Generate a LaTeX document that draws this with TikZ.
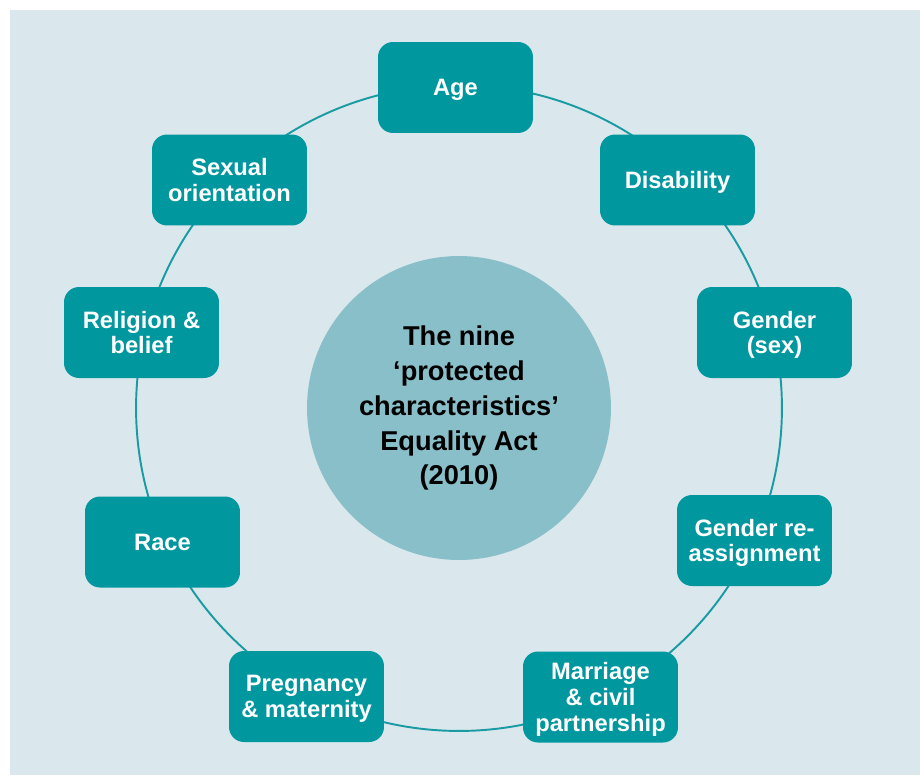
\documentclass[tikz,border=0pt]{standalone}
\usepackage{fontspec}
\setmainfont{Liberation Sans}
\definecolor{paper}{HTML}{DAE8ED}
\definecolor{tealbox}{HTML}{00979F}
\definecolor{hubfill}{HTML}{89BFC8}
\definecolor{ringline}{HTML}{1A9AA3}
\tikzset{
	trait/.style={fill=tealbox, rounded corners=0.3cm, minimum width=3.1cm, minimum height=1.82cm,
		inner sep=0pt, align=center, text=white, text depth=-0.12cm, font=\bfseries\fontsize{13.5}{14.6}\selectfont},
	hubdisc/.style={circle, fill=hubfill, minimum size=6.08cm, inner sep=0pt, align=center,
		font=\bfseries\fontsize{15.5}{19.9}\selectfont},
	ring/.style={draw=ringline, line width=1.1pt}
}

\begin{document}
\begin{tikzpicture}[x=0.02cm,y=-0.02cm]
					\useasboundingbox (0,0) rectangle (920,775);
					\fill[paper] (10,10) rectangle (920,775);
					%CENTRE
					\node[hubdisc] (hub) at (459,408) {The nine\\`protected\\characteristics'\\Equality Act\\(2010)};
					\draw[ring] (hub) circle[radius=6.46cm];
					%CHARACTERISTICS
					\node[trait] (age) at (455.5,87.5) {Age};
					\node[trait] (disability) at (677.5,180) {Disability};
					\node[trait] (sex) at (774.5,332.5) {Gender\\(sex)};
					\node[trait] (reassign) at (754.5,540.5) {Gender re-\\assignment};
					\node[trait] (marriage) at (600.5,697) {Marriage\\\& civil\\partnership};
					\node[trait] (pregnancy) at (306.5,696.5) {Pregnancy\\\& maternity};
					\node[trait] (race) at (162.5,542) {Race};
					\node[trait] (religion) at (141.5,332.5) {Religion \&\\belief};
					\node[trait] (orientation) at (229.5,180) {Sexual\\orientation};
\end{tikzpicture}
\end{document}
